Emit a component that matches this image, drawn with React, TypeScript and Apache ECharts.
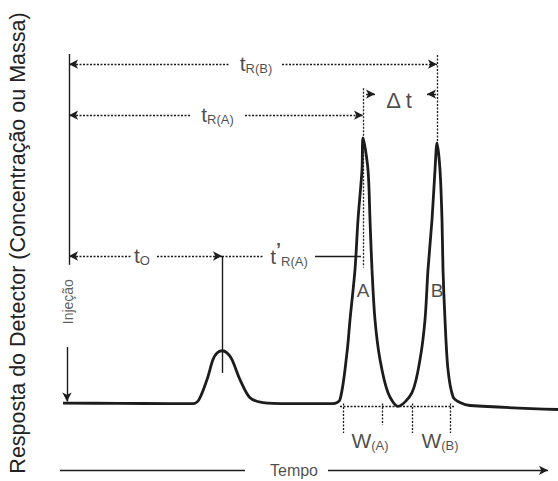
import React, { useEffect, useRef } from "react";
import * as echarts from "echarts";

// Chromatogram signal (time in arbitrary units, detector response in % of peak A)
const signalTime = [
  -0.6, 5, 10, 12.4, 13.0, 13.8, 14.4, 14.8, 15.3, 15.8, 16.3, 17.1, 18.1, 19.4, 22, 26.4,
  27.1, 27.8, 28.1, 28.6, 28.9, 29.3, 29.4, 29.9, 30.1, 30.3, 30.6, 31.1, 31.9, 32.9,
  34.3, 35.1, 35.6, 35.9, 36.3, 36.6, 36.8, 37.1, 37.3, 37.4, 37.6, 37.9, 38.4, 39.1, 40.1, 48.9,
];
const signalResponse = [
  0.2, 0.1, 0, 0, 1.5, 9, 16.5, 19, 19.8, 19, 16.5, 9, 2.2, 0.4, 0, 0,
  1.5, 19.1, 31.4, 50.2, 68.9, 87.6, 99.6, 87.6, 68.9, 50.2, 31.4, 16.5, 4.1, -1,
  4.1, 16.5, 31.4, 50.2, 68.9, 87.6, 97.7, 87.6, 68.9, 50.2, 31.4, 12.7, 2.6, 0.4, -0.7, -2.2,
];

// Guide segments: [t1, v1, t2, v2, arrowAtStart, arrowAtEnd, dashed]
const guideSegments: number[][] = [
  [0, 131, 0, 52, 0, 0, 0],
  [-0.2, 21.2, -0.2, 0.8, 0, 1, 0],
  [0, 127.2, 16.1, 127.2, 1, 0, 1],
  [21.3, 127.2, 36.8, 127.2, 0, 1, 1],
  [0, 108.1, 12.1, 108.1, 1, 0, 1],
  [17.6, 108.1, 29.4, 108.1, 0, 1, 1],
  [29.4, 118.2, 29.4, 51, 0, 0, 1],
  [36.8, 130.6, 36.8, 97.7, 0, 0, 1],
  [29.7, 116, 30.6, 116, 0, 1, 0],
  [36.7, 116, 35.8, 116, 0, 1, 0],
  [0, 55.3, 6.3, 55.3, 1, 0, 1],
  [8.8, 55.3, 15.3, 55.3, 0, 1, 1],
  [15.3, 55.3, 19.4, 55.3, 0, 0, 1],
  [24.6, 55.3, 29.2, 55.3, 0, 0, 0],
  [15.3, 55.3, 15.3, 11.5, 0, 0, 0],
  [27.4, 0, 27.4, -11, 0, 0, 1],
  [31.3, 0, 31.3, -8, 0, 0, 1],
  [34.3, 0, 34.3, -11, 0, 0, 1],
  [38.1, 0, 38.1, -11, 0, 0, 1],
  [27.1, -1, 38.6, -1, 0, 0, 1],
  [-0.9, -25, 17.6, -25, 0, 0, 0],
  [25.9, -25, 47.9, -25, 0, 1, 0],
];

// Text labels placed at data coordinates
const labelText = [
  "{t|t}{s|R(B)}",
  "{t|t}{s|R(A)}",
  "{d|Δ t}",
  "{t|t}{s|O}",
  "{t|t}{p|’}{s|R(A)}",
  "{m|A}",
  "{m|B}",
  "{w|W}{s|(A)}",
  "{w|W}{s|(B)}",
  "{n|Tempo}",
  "{i|Injeção}",
];
const labelTime = [18.7, 14.85, 33.0, 7.3, 22.0, 29.4, 36.8, 30.1, 37.1, 22.5, -0.15];
const labelResponse = [127.6, 108.4, 113.7, 55.6, 55.3, 42.5, 42.5, -13.8, -13.8, -25, 38.2];
const labelRotate = [0, 0, 0, 0, 0, 0, 0, 0, 0, 0, 90];

const yTitle = "Resposta do Detector (Concentração ou Massa)";

const FONT = "'Liberation Sans', Arial, Helvetica, sans-serif";
const INK = "#1c1c1c";

export default function App() {
  const ref = useRef<HTMLDivElement>(null);
  useEffect(() => {
    if (!ref.current) return;
    const chart = echarts.init(ref.current, null, { renderer: "svg" });

    const lineData = guideSegments.map((s) => [
      { coord: [s[0], s[1]], symbol: s[4] ? "arrow" : "none" },
      {
        coord: [s[2], s[3]],
        symbol: s[5] ? "arrow" : "none",
        lineStyle: {
          color: INK,
          width: s[6] ? 1.3 : 1.4,
          type: s[6] ? [2, 1.5] : "solid",
        },
      },
    ]);

    const labelData = labelText.map((txt, i) => ({
      value: [labelTime[i], labelResponse[i]],
      label: { formatter: txt, rotate: labelRotate[i] },
    }));

    const rich = {
      t: { fontSize: 21, fontFamily: FONT, color: INK },
      s: { fontSize: 13, fontFamily: FONT, color: INK, padding: [11, 0, 0, 0] },
      p: { fontSize: 18, fontFamily: FONT, color: INK, fontWeight: "bold", padding: [0, 0, 13, 0] },
      d: { fontSize: 22, fontFamily: FONT, color: INK },
      m: { fontSize: 19, fontFamily: FONT, color: INK },
      w: { fontSize: 21, fontFamily: FONT, color: INK },
      n: { fontSize: 16, fontFamily: FONT, color: INK },
      i: { fontSize: 14, fontFamily: FONT, color: "#333" },
    };

    chart.setOption({
      animation: false,
      backgroundColor: "#ffffff",
      grid: { left: 59, right: 0, top: 30, bottom: 8 },
      xAxis: { type: "value", min: -1, max: 48.9, show: false },
      yAxis: { type: "value", min: -26, max: 140, show: false },
      graphic: [
        {
          type: "text",
          x: 18,
          y: 243,
          rotation: Math.PI / 2,
          style: {
            text: yTitle,
            fontSize: 21.5,
            fontFamily: FONT,
            fill: "#222",
            align: "center",
            verticalAlign: "middle",
          },
        },
      ],
      series: [
        {
          type: "line",
          data: signalTime.map((t, i) => [t, signalResponse[i]]),
          smooth: 0.3,
          showSymbol: false,
          symbol: "none",
          lineStyle: { color: INK, width: 2.8 },
          silent: true,
          z: 3,
          markLine: {
            silent: true,
            symbolSize: [7, 9],
            label: { show: false },
            data: lineData,
          },
        },
        {
          type: "scatter",
          symbolSize: 0,
          silent: true,
          z: 5,
          label: {
            show: true,
            position: "inside",
            color: INK,
            fontFamily: FONT,
            rich,
          },
          data: labelData,
        },
      ],
    });
    return () => chart.dispose();
  }, []);
  return (
    <div
      ref={ref}
      style={{ position: "fixed", left: 0, top: 0, width: 558, height: 481, background: "#fff" }}
    />
  );
}
